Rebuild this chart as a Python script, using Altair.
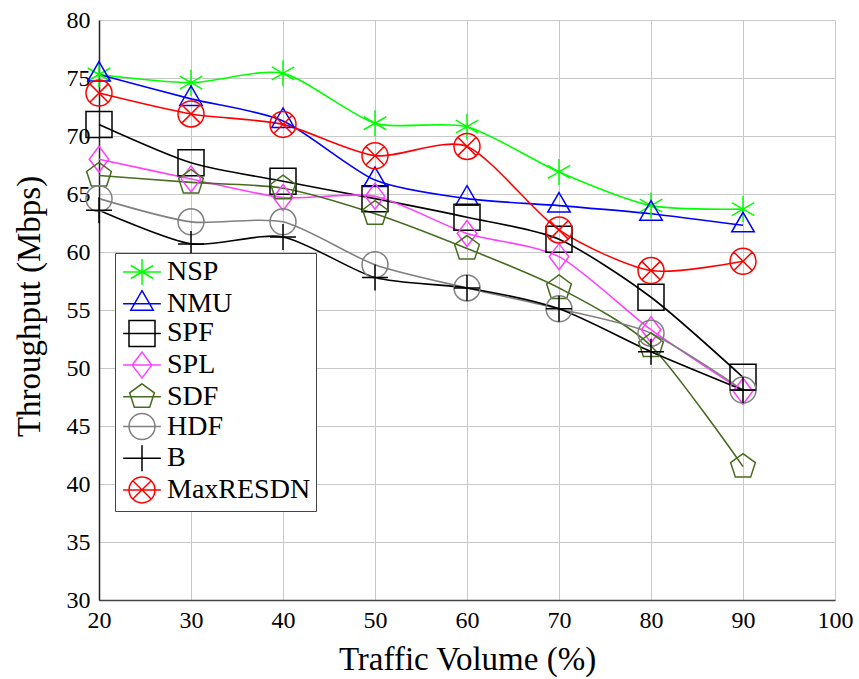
import altair as alt
import pandas as pd

# ---- data ----
traffic = [20, 30, 40, 50, 60, 70, 80, 90]
series_names = ["NSP", "NMU", "SPF", "SPL", "SDF", "HDF", "B", "MaxRESDN"]
nsp = [75.3, 74.6, 75.4, 71.1, 70.8, 66.9, 64.0, 63.7]
nmu = [75.3, 73.2, 71.3, 66.2, 64.6, 64.0, 63.3, 62.3]
spf = [71.0, 67.7, 66.1, 64.6, 63.0, 61.1, 56.1, 49.2]
spl = [68.0, 66.3, 64.7, 64.8, 61.6, 59.6, 53.3, 48.0]
sdf = [66.6, 66.0, 65.5, 63.3, 60.3, 56.9, 51.9, 41.5]
hdf = [64.6, 62.6, 62.6, 58.9, 56.9, 55.1, 53.0, 48.1]
b_vals = [63.6, 60.7, 61.3, 57.8, 56.9, 55.1, 51.4, 48.1]
maxresdn = [73.7, 71.9, 71.0, 68.3, 69.1, 61.9, 58.4, 59.2]
x_ticks = [20, 30, 40, 50, 60, 70, 80, 90, 100]
y_ticks = [30, 35, 40, 45, 50, 55, 60, 65, 70, 75, 80]

colors = ["#00ff00", "#0000ff", "#000000", "#ff40ff", "#476b1f", "#808080", "#000000", "#ff0000"]

# marker shapes (unit paths)
asterisk = "M0,-1L0,1M-0.866,-0.5L0.866,0.5M-0.866,0.5L0.866,-0.5"
triangle = "M0,-1L0.866,0.5L-0.866,0.5Z"
square = "M-1,-1L1,-1L1,1L-1,1Z"
diamond = "M0,-1L0.75,0L0,1L-0.75,0Z"
pentagon = "M0,-1L0.951,-0.309L0.588,0.809L-0.588,0.809L-0.951,-0.309Z"
circle = "M1,0A1,1,0,1,1,-1,0A1,1,0,1,1,1,0Z"
plus = "M0,-1L0,1M-1,0L1,0"
otimes = circle + "M-0.707,-0.707L0.707,0.707M-0.707,0.707L0.707,-0.707"
shapes = [asterisk, triangle, square, diamond, pentagon, circle, plus, otimes]
hline = "M-1.45,0L1.45,0"
legend_shapes = [s + hline for s in shapes]

all_vals = [nsp, nmu, spf, spl, sdf, hdf, b_vals, maxresdn]
rows = []
for name, vals in zip(series_names, all_vals):
    for x, v in zip(traffic, vals):
        rows.append({"series": name, "traffic": x, "throughput": v})
df = pd.DataFrame(rows)

font = "Liberation Serif"

x_enc = alt.X(
    "traffic:Q",
    scale=alt.Scale(domain=[20, 100], nice=False, zero=False),
    axis=alt.Axis(
        values=x_ticks, title="Traffic Volume (%)", grid=True, gridColor="#c8c8c8",
        ticks=False, labelPadding=8, labelFlush=False, domainColor="#444444", domainWidth=1.5,
        labelFont=font, labelFontSize=24, labelColor="black",
        titleFont=font, titleFontSize=33, titleFontWeight="normal", titleColor="black",
        titleY=69, titleBaseline="alphabetic",
    ),
)
y_enc = alt.Y(
    "throughput:Q",
    scale=alt.Scale(domain=[30, 80], nice=False, zero=False),
    axis=alt.Axis(
        values=y_ticks, title="Throughput (Mbps)", grid=True, gridColor="#c8c8c8",
        ticks=False, labelPadding=9, labelFlush=False, domainColor="#222222", domainWidth=1.5,
        labelFont=font, labelFontSize=24, labelColor="black",
        titleFont=font, titleFontSize=33, titleFontWeight="normal", titleColor="black",
        titleX=-70, titleY=286, titleAngle=270, titleAlign="center", titleBaseline="middle",
    ),
)

color_scale = alt.Scale(domain=series_names, range=colors)

lines = alt.Chart(df).mark_line(
    interpolate="cardinal", tension=0.25, strokeWidth=1.6
).encode(
    x=x_enc, y=y_enc,
    color=alt.Color("series:N", scale=color_scale, legend=None),
    detail="series:N",
    order=alt.Order("traffic:Q"),
)

points = alt.Chart(df).mark_point(filled=False, strokeWidth=1.5, size=676, opacity=1).encode(
    x="traffic:Q", y="throughput:Q",
    color=alt.Color("series:N", scale=color_scale, legend=None),
    shape=alt.Shape("series:N", scale=alt.Scale(domain=series_names, range=shapes), legend=None),
)

legend_layer = alt.Chart(df).transform_filter("datum.traffic < 0").mark_point(
    filled=False, strokeWidth=1.5, size=676, opacity=1
).encode(
    x="traffic:Q", y="throughput:Q",
    color=alt.Color("series:N", scale=color_scale, legend=alt.Legend(title=None)),
    shape=alt.Shape("series:N", scale=alt.Scale(domain=series_names, range=legend_shapes),
                    legend=alt.Legend(title=None)),
)

chart = alt.layer(lines, points, legend_layer).resolve_scale(
    color="independent", shape="independent"
).properties(
    width=736, height=580,
    autosize=alt.AutoSizeParams(type="none"),
    padding={"left": 99, "top": 20, "right": 24, "bottom": 79},
).configure_view(
    stroke=None
).configure_legend(
    orient="none", legendX=16, legendY=233,
    padding=5, strokeColor="#444444", fillColor="white", cornerRadius=0,
    labelFont=font, labelFontSize=28, labelColor="black", labelLimit=300,
    symbolSize=676, symbolStrokeWidth=1.5, symbolType="circle", symbolOffset=8,
    rowPadding=-0.3, labelOffset=11,
)

chart.save("out.html", embed_options={"renderer": "svg", "actions": False})
